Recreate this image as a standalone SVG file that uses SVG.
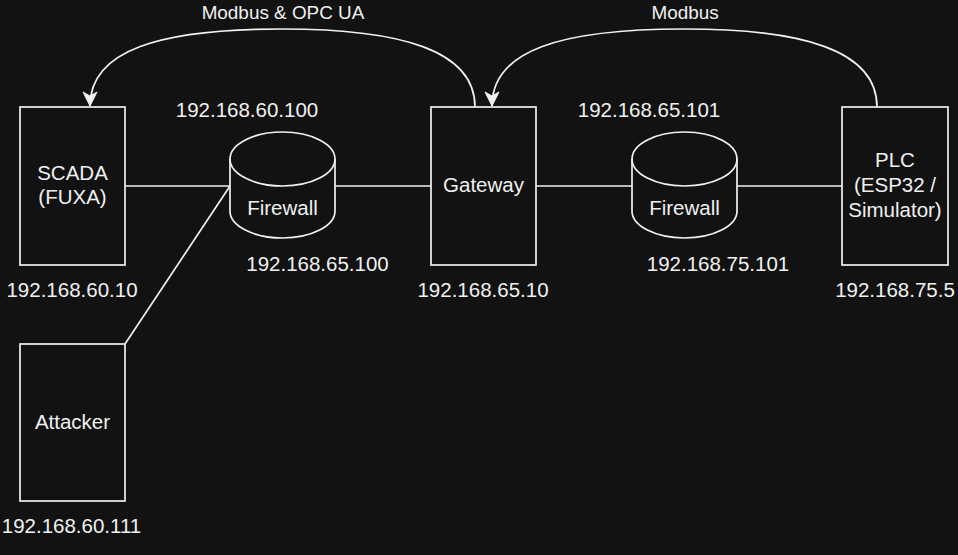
<svg xmlns="http://www.w3.org/2000/svg" width="958" height="555" viewBox="0 0 958 555">
<style>
.bg{fill:#121212}
.sh{fill:#121212;stroke:#f0f0f0;stroke-width:1.7}
.ln{fill:none;stroke:#f0f0f0;stroke-width:1.7}
text{font-family:"Liberation Sans",Arial,Helvetica,sans-serif;fill:#f0f0f0;text-anchor:middle}
.n{font-size:20.5px}
.e{font-size:18.9px}
</style>
<defs>
<marker id="arr" markerUnits="userSpaceOnUse" markerWidth="20" markerHeight="20" viewBox="-16 -10 20 20" refX="0" refY="0" orient="auto">
<path d="M0,0 L-14,-7 L-10,0 L-14,7 Z" fill="#f0f0f0" stroke="#f0f0f0" stroke-width="1"/>
</marker>
</defs>
<rect class="bg" x="0" y="0" width="958" height="555"/>
<g id="connectors">
<line class="ln" x1="125" y1="186" x2="230" y2="186"/>
<line class="ln" x1="335" y1="186" x2="431" y2="186"/>
<line class="ln" x1="536" y1="186" x2="632" y2="186"/>
<line class="ln" x1="737" y1="186" x2="842" y2="186"/>
<line class="ln" x1="125" y1="344" x2="230" y2="186"/>
<path class="ln" d="M475,107 C475,50 400,29 282,29 C160,29 90,50 90,106" marker-end="url(#arr)"/>
<path class="ln" d="M877,107 C877,50 802,29 684,29 C562,29 492,50 492,106" marker-end="url(#arr)"/>
<text class="e" x="283" y="19">Modbus &amp; OPC UA</text>
<text class="e" x="685" y="19">Modbus</text>
</g>
<g id="scada">
<rect class="sh" x="20" y="107" width="105" height="158"/>
<text class="n" x="72.5" y="180">SCADA</text>
<text class="n" x="72.5" y="204">(FUXA)</text>
<text class="n" x="72" y="297">192.168.60.10</text>
</g>
<g id="attacker">
<rect class="sh" x="20" y="344" width="105" height="157"/>
<text class="n" x="72.5" y="429">Attacker</text>
<text class="n" x="71.5" y="533">192.168.60.111</text>
</g>
<g id="firewall1">
<path class="sh" d="M230,159 A52.5,27 0 0 1 335,159 L335,211 A52.5,27 0 0 1 230,211 Z"/>
<path class="ln" d="M230,159 A52.5,27 0 0 0 335,159"/>
<text class="n" x="282.5" y="215">Firewall</text>
<text class="n" x="247" y="117">192.168.60.100</text>
<text class="n" x="317.5" y="271">192.168.65.100</text>
</g>
<g id="gateway">
<rect class="sh" x="431" y="107" width="105" height="158"/>
<text class="n" x="483.5" y="192">Gateway</text>
<text class="n" x="483" y="297">192.168.65.10</text>
</g>
<g id="firewall2">
<path class="sh" d="M632,159 A52.5,27 0 0 1 737,159 L737,211 A52.5,27 0 0 1 632,211 Z"/>
<path class="ln" d="M632,159 A52.5,27 0 0 0 737,159"/>
<text class="n" x="684.5" y="215">Firewall</text>
<text class="n" x="649" y="117">192.168.65.101</text>
<text class="n" x="718" y="271">192.168.75.101</text>
</g>
<g id="plc">
<rect class="sh" x="842" y="107" width="106" height="158"/>
<text class="n" x="895" y="167">PLC</text>
<text class="n" x="895" y="192">(ESP32 /</text>
<text class="n" x="895" y="217">Simulator)</text>
<text class="n" x="895" y="297">192.168.75.5</text>
</g>
</svg>
